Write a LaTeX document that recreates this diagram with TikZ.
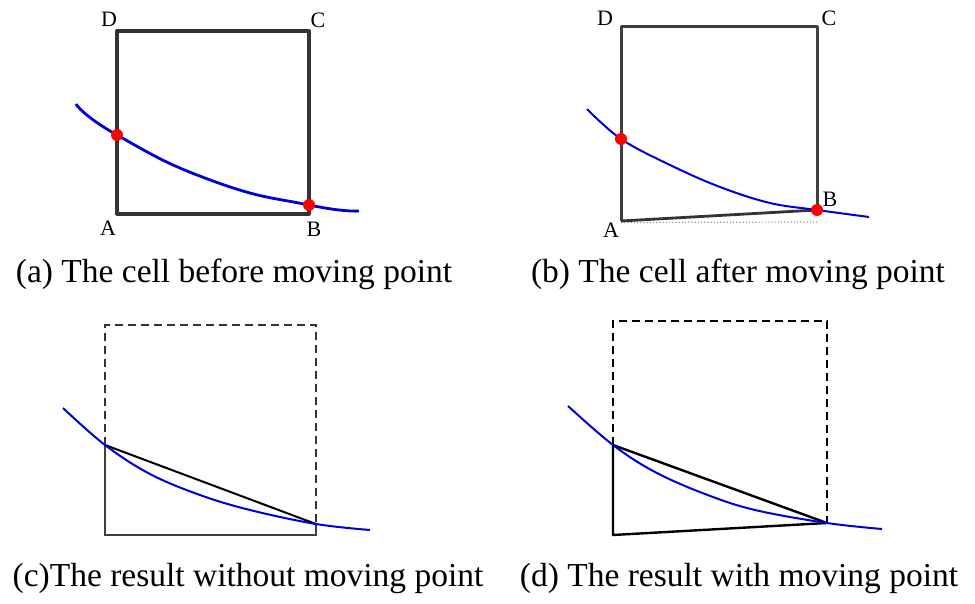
\documentclass[tikz,border=0pt]{standalone}
\usepackage{fontspec}
\setmainfont{Liberation Serif}
\tikzset{
  cellline/.style={line width=3.2pt, black!80},
  curveline/.style={line width=2.8pt, blue!85!black},
  thincurve/.style={line width=2pt, blue!85!black},
  dashline/.style={line width=2.4pt, black!80, dash pattern=on 8pt off 5pt},
  chord/.style={line width=2pt, black},
  hitdot/.style={circle, fill=red, inner sep=0pt, minimum size=12pt},
  corner/.style={font=\fontsize{22}{22}\selectfont, inner sep=0pt},
  caption/.style={font=\fontsize{33.5}{36}\selectfont, inner sep=0pt}
}
\begin{document}
\begin{tikzpicture}[x=1pt, y=-1pt]
        \useasboundingbox (0,0) rectangle (975,604);

        % (a) the cell before moving point
        \coordinate (aA) at (117,214);
        \coordinate (aB) at (309,214);
        \coordinate (aC) at (309,31);
        \coordinate (aD) at (117,31);
        \coordinate (aP) at (117,135);
        \coordinate (aQ) at (309,205);
        \draw[cellline, line join=round] (aA) -- (aB) -- (aC) -- (aD) -- cycle;
        \draw[curveline] plot[smooth, tension=0.9] coordinates {(76,104) (aP) (213,181) (aQ) (359,211)};
        \node[hitdot] (aP dot) at (aP) {};
        \node[hitdot] (aQ dot) at (aQ) {};
        \node[corner] (aA lab) at (108,228) {A};
        \node[corner] (aB lab) at (314,229) {B};
        \node[corner] (aC lab) at (318,20) {C};
        \node[corner] (aD lab) at (109,19) {D};
        \node[caption] (cap a) at (234,274) {(a) The cell before moving point};

        % (b) the cell after moving point
        \coordinate (bA) at (621,221);
        \coordinate (bB) at (817,210);
        \coordinate (bC) at (817,27);
        \coordinate (bD) at (621,27);
        \coordinate (bP) at (621,139);
        \coordinate (bOld) at (817,222);
        \draw[black!40, line width=1.2pt, dotted] (621,222.5) -- (bOld);
        \draw[line width=3pt, black!75, line join=round] (bB) -- (bC) -- (bD) -- (bA);
        \draw[line width=2.8pt, black!80] (bA) -- (bB);
        \draw[thincurve] plot[smooth, tension=0.6] coordinates {(587,109) (bP) (670,165) (720,187) (770,203) (bB) (869,217)};
        \node[hitdot] (bP dot) at (bP) {};
        \node[hitdot] (bB dot) at (bB) {};
        \node[corner] (bA lab) at (611,230) {A};
        \node[corner] (bB lab) at (830,199) {B};
        \node[corner] (bC lab) at (829,18) {C};
        \node[corner] (bD lab) at (605,18) {D};
        \node[caption] (cap b) at (738,274) {(b) The cell after moving point};

        % (c) the result without moving point
        \coordinate (cA) at (105,535);
        \coordinate (cB) at (316,535);
        \coordinate (cC) at (316,325);
        \coordinate (cD) at (105,325);
        \coordinate (cP) at (105,445);
        \coordinate (cQ) at (316,524);
        \draw[dashline] (cP) -- (cD) -- (cC) -- (cQ);
        \draw[line width=2.6pt, black!75] (cP) -- (cA) -- (cB) -- (cQ);
        \draw[chord] (cP) -- (cQ);
        \draw[thincurve] plot[smooth, tension=0.6] coordinates {(63,408) (cP) (150,474) (200,495) (250,510) (cQ) (370,530)};
        \node[caption] (cap c) at (248,578) {(c)The result without moving point};

        % (d) the result with moving point
        \coordinate (dA) at (613,535);
        \coordinate (dC) at (827,321);
        \coordinate (dD) at (613,321);
        \coordinate (dP) at (613,445);
        \coordinate (dQ) at (827,523);
        \draw[dashline, black] (dP) -- (dD) -- (dC) -- (dQ);
        \draw[chord, line width=2.4pt] (dP) -- (dA) -- (dQ);
        \draw[chord, line width=2.4pt] (dP) -- (dQ);
        \draw[thincurve] plot[smooth, tension=0.6] coordinates {(568,406) (dP) (655,472) (705,494) (755,510) (dQ) (882,529)};
        \node[caption] (cap d) at (739,578) {(d) The result with moving point};
    \end{tikzpicture}
\end{document}
